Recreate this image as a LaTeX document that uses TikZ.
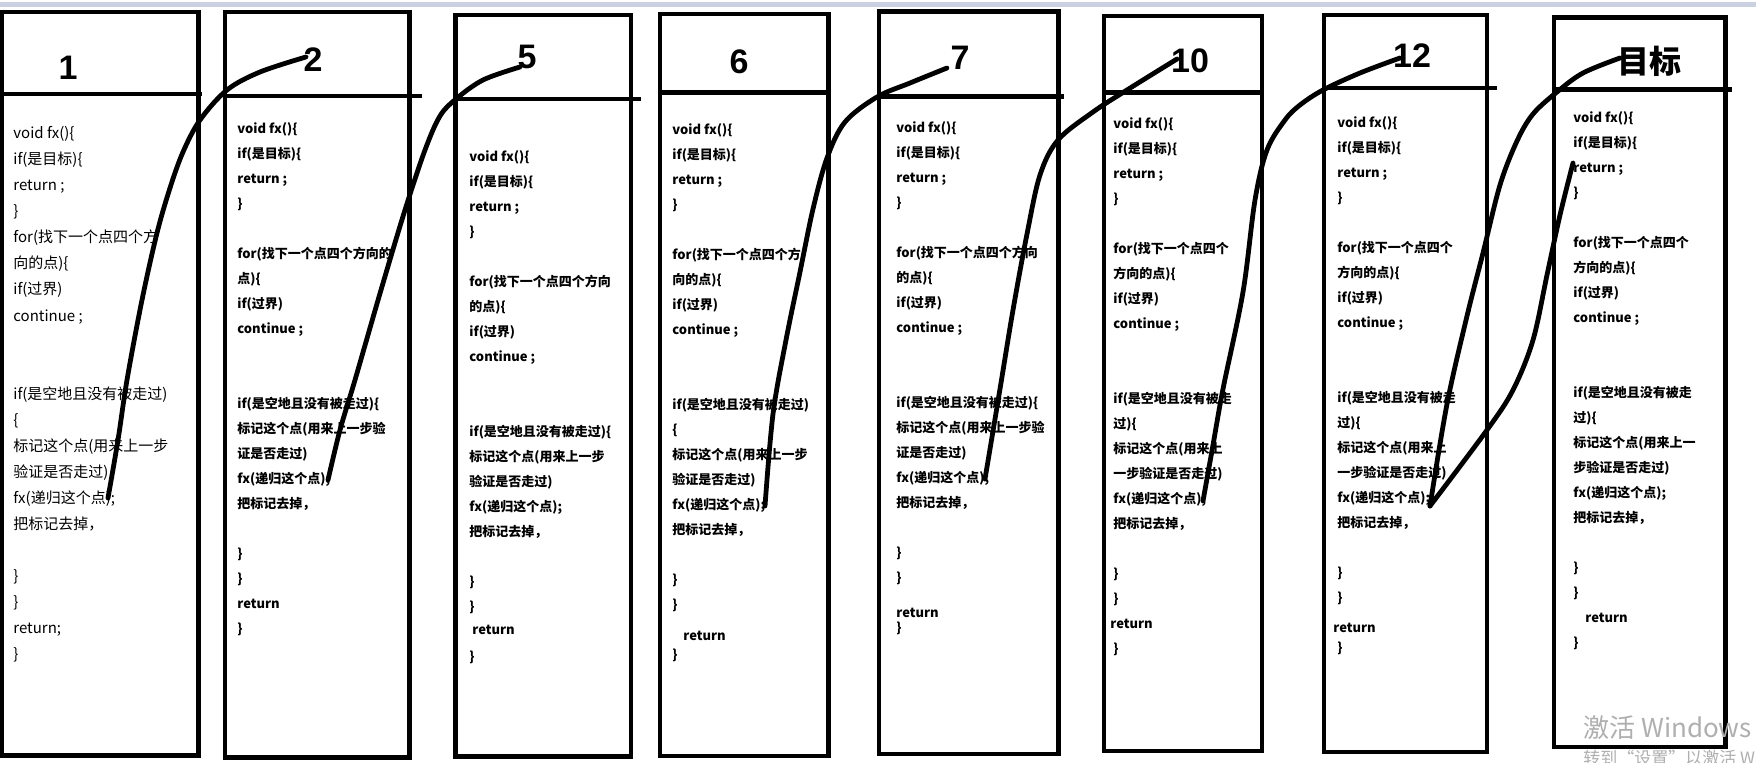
\documentclass[tikz,border=0pt]{standalone}
\usepackage{fontspec}
\setmainfont{Liberation Sans}
\newfontfamily\cjk{Noto Sans CJK SC}
\newfontfamily\titlefont{Liberation Sans}
\newcounter{lnum}
\definecolor{topband}{RGB}{203,209,224}
\definecolor{wmgrey}{RGB}{175,175,175}
\tikzset{
  x=0.5pt, y=-0.5pt,
  boxline/.style={line width=2.25pt, line cap=rect, line join=miter},
  curve/.style={line width=2.4pt, line cap=round, line join=round},
  title/.style={font=\titlefont\bfseries\fontsize{17pt}{17pt}\selectfont, inner sep=0pt},
  titlecjk/.style={font=\cjk\bfseries\fontsize{16pt}{16pt}\selectfont, inner sep=0pt},
  codeA/.style={font=\cjk\fontsize{7.5pt}{8pt}\selectfont, anchor=base west, inner sep=0pt},
  codeB/.style={font=\cjk\bfseries\fontsize{6.5pt}{7pt}\selectfont, anchor=base west, inner sep=0pt},
  cstyle/.style={codeB},
  wm/.style={font=\cjk\fontsize{13pt}{13pt}\selectfont, text=wmgrey, inner sep=0pt, anchor=base west},
  wmsmall/.style={font=\cjk\fontsize{8.5pt}{9pt}\selectfont, text=wmgrey, inner sep=0pt, anchor=base west},
}
\newcommand\codeln[3][0]{\stepcounter{lnum}\node[cstyle] (L\arabic{lnum}) at (#1,{#2*\pitch}) {#3};}
\begin{document}
\begin{tikzpicture}
\useasboundingbox (0,0) rectangle (1756,763);
\fill[white] (0,0) rectangle (1756,763);
\fill[topband] (0,2) rectangle (1756,7);

% ---------- boxes ----------
\draw[boxline] (2,12) rectangle (198.5,755.5);
\draw[boxline] (2,94) -- (200,94);
\draw[boxline] (225,12) rectangle (409.5,757.5);
\draw[boxline] (225,96) -- (420,96);
\draw[boxline] (455.5,15) rectangle (631,756.5);
\draw[boxline] (455.5,99) -- (639,99);
\draw[boxline] (660,14) rectangle (828.5,756);
\draw[boxline] (660,92.5) -- (828.5,92.5);
\draw[boxline] (879,11.7) rectangle (1058.5,754);
\draw[boxline] (879,96.5) -- (1062,96.5);
\draw[boxline] (1104,16) rectangle (1262,751);
\draw[boxline] (1104,92.5) -- (1262,92.5);
\draw[boxline] (1324,15) rectangle (1487,752);
\draw[boxline] (1324,88) -- (1495,88);
\draw[boxline] (1554,17.5) rectangle (1725.5,747);
\draw[boxline] (1554,89.5) -- (1730,89.5);

% ---------- titles ----------
\node[title] (t1) at (68,68) {1};
\node[title] (t2) at (313,60) {2};
\node[title] (t5) at (527,57) {5};
\node[title] (t6) at (739,62) {6};
\node[title] (t7) at (960,58) {7};
\node[title] (t10) at (1190,61) {10};
\node[title] (t12) at (1412,56) {12};
\node[titlecjk] (t13) at (1649,61) {目标};

% ---------- box 1 ----------
\begin{scope}[shift={(13,138.7)}, cstyle/.style={codeA}]
\def\pitch{26.05}
\codeln{0}{void fx()\{}
\codeln{1}{if(是目标)\{}
\codeln{2}{return ;}
\codeln{3}{\}}
\codeln{4}{for(找下一个点四个方}
\codeln{5}{向的点)\{}
\codeln{6}{if(过界)}
\codeln{7}{continue ;}
\codeln{10}{if(是空地且没有被走过)}
\codeln{11}{\{}
\codeln{12}{标记这个点(用来上一步}
\codeln{13}{验证是否走过)}
\codeln{14}{fx(递归这个点);}
\codeln{15}{把标记去掉，}
\codeln{17}{\}}
\codeln{18}{\}}
\codeln{19}{return;}
\codeln{20}{\}}
\end{scope}

% ---------- box 2 ----------
\begin{scope}[shift={(237,134)}]
\def\pitch{25}
\codeln{0}{void fx()\{}
\codeln{1}{if(是目标)\{}
\codeln{2}{return ;}
\codeln{3}{\}}
\codeln{5}{for(找下一个点四个方向的}
\codeln{6}{点)\{}
\codeln{7}{if(过界)}
\codeln{8}{continue ;}
\codeln{11}{if(是空地且没有被走过)\{}
\codeln{12}{标记这个点(用来上一步验}
\codeln{13}{证是否走过)}
\codeln{14}{fx(递归这个点);}
\codeln{15}{把标记去掉，}
\codeln{17}{\}}
\codeln{18}{\}}
\codeln{19}{return}
\codeln{20}{\}}
\end{scope}

% ---------- box 5 ----------
\begin{scope}[shift={(469,162)}]
\def\pitch{25}
\codeln{0}{void fx()\{}
\codeln{1}{if(是目标)\{}
\codeln{2}{return ;}
\codeln{3}{\}}
\codeln{5}{for(找下一个点四个方向}
\codeln{6}{的点)\{}
\codeln{7}{if(过界)}
\codeln{8}{continue ;}
\codeln{11}{if(是空地且没有被走过)\{}
\codeln{12}{标记这个点(用来上一步}
\codeln{13}{验证是否走过)}
\codeln{14}{fx(递归这个点);}
\codeln{15}{把标记去掉，}
\codeln{17}{\}}
\codeln{18}{\}}
\codeln[3]{18.9}{return}
\codeln{20}{\}}
\end{scope}

% ---------- box 6 ----------
\begin{scope}[shift={(672,135)}]
\def\pitch{25}
\codeln{0}{void fx()\{}
\codeln{1}{if(是目标)\{}
\codeln{2}{return ;}
\codeln{3}{\}}
\codeln{5}{for(找下一个点四个方}
\codeln{6}{向的点)\{}
\codeln{7}{if(过界)}
\codeln{8}{continue ;}
\codeln{11}{if(是空地且没有被走过)}
\codeln{12}{\{}
\codeln{13}{标记这个点(用来上一步}
\codeln{14}{验证是否走过)}
\codeln{15}{fx(递归这个点);}
\codeln{16}{把标记去掉，}
\codeln{18}{\}}
\codeln{19}{\}}
\codeln[11]{20.24}{return}
\codeln{21}{\}}
\end{scope}

% ---------- box 7 ----------
\begin{scope}[shift={(896,133)}]
\def\pitch{25}
\codeln{0}{void fx()\{}
\codeln{1}{if(是目标)\{}
\codeln{2}{return ;}
\codeln{3}{\}}
\codeln{5}{for(找下一个点四个方向}
\codeln{6}{的点)\{}
\codeln{7}{if(过界)}
\codeln{8}{continue ;}
\codeln{11}{if(是空地且没有被走过)\{}
\codeln{12}{标记这个点(用来上一步验}
\codeln{13}{证是否走过)}
\codeln{14}{fx(递归这个点);}
\codeln{15}{把标记去掉，}
\codeln{17}{\}}
\codeln{18}{\}}
\codeln{19.4}{return}
\codeln{20}{\}}
\end{scope}

% ---------- box 10 ----------
\begin{scope}[shift={(1113,129)}]
\def\pitch{25}
\codeln{0}{void fx()\{}
\codeln{1}{if(是目标)\{}
\codeln{2}{return ;}
\codeln{3}{\}}
\codeln{5}{for(找下一个点四个}
\codeln{6}{方向的点)\{}
\codeln{7}{if(过界)}
\codeln{8}{continue ;}
\codeln{11}{if(是空地且没有被走}
\codeln{12}{过)\{}
\codeln{13}{标记这个点(用来上}
\codeln{14}{一步验证是否走过)}
\codeln{15}{fx(递归这个点);}
\codeln{16}{把标记去掉，}
\codeln{18}{\}}
\codeln{19}{\}}
\codeln[-3]{20}{return}
\codeln{21}{\}}
\end{scope}

% ---------- box 12 ----------
\begin{scope}[shift={(1337,127.6)}]
\def\pitch{25}
\codeln{0}{void fx()\{}
\codeln{1}{if(是目标)\{}
\codeln{2}{return ;}
\codeln{3}{\}}
\codeln{5}{for(找下一个点四个}
\codeln{6}{方向的点)\{}
\codeln{7}{if(过界)}
\codeln{8}{continue ;}
\codeln{11}{if(是空地且没有被走}
\codeln{12}{过)\{}
\codeln{13}{标记这个点(用来上}
\codeln{14}{一步验证是否走过)}
\codeln{15}{fx(递归这个点);}
\codeln{16}{把标记去掉，}
\codeln{18}{\}}
\codeln{19}{\}}
\codeln[-4]{20.2}{return}
\codeln{21}{\}}
\end{scope}

% ---------- box target ----------
\begin{scope}[shift={(1573,123)}]
\def\pitch{25}
\codeln{0}{void fx()\{}
\codeln{1}{if(是目标)\{}
\codeln{2}{return ;}
\codeln{3}{\}}
\codeln{5}{for(找下一个点四个}
\codeln{6}{方向的点)\{}
\codeln{7}{if(过界)}
\codeln{8}{continue ;}
\codeln{11}{if(是空地且没有被走}
\codeln{12}{过)\{}
\codeln{13}{标记这个点(用来上一}
\codeln{14}{步验证是否走过)}
\codeln{15}{fx(递归这个点);}
\codeln{16}{把标记去掉，}
\codeln{18}{\}}
\codeln{19}{\}}
\codeln[12]{20}{return}
\codeln{21}{\}}
\end{scope}

% ---------- curve end points ----------
\coordinate (s1) at (108,498);
\coordinate (e1) at (306,57);
\coordinate (s2) at (328,480);
\coordinate (e2) at (520,67);
\coordinate (s3) at (765,506);
\coordinate (e3) at (947,68);
\coordinate (s4) at (985,479);
\coordinate (e4) at (1177,59);
\coordinate (s5) at (1203,501);
\coordinate (e5) at (1400,58);
\coordinate (s6) at (1430,506);
\coordinate (e6) at (1620,58);
\coordinate (e7) at (1573,163);

\draw[curve] plot[smooth, tension=0.55] coordinates {(s1) (118,440) (127,380) (142,300) (157,233) (170,188) (183,152) (200,120) (227,90) (260,72) (e1)};
\draw[curve] plot[smooth, tension=0.55] coordinates {(s2) (340,430) (355,380) (381,290) (405,210) (425,150) (440,116) (456,99) (483,80) (e2)};
\draw[curve] plot[smooth, tension=0.55] coordinates {(s3) (773,414) (786,340) (800,272) (813,209) (827,158) (845,122) (877,97) (910,83) (e3)};
\draw[curve] plot[smooth, tension=0.55] coordinates {(s4) (1000,389) (1013,310) (1027,234) (1040,175) (1058,140) (1093,112) (1127,90) (e4)};
\draw[curve] plot[smooth, tension=0.55] coordinates {(s5) (1213,445) (1223,389) (1243,292) (1255,200) (1267,150) (1285,120) (1300,105) (1323,90) (1360,73) (e5)};
\draw[curve] plot[smooth, tension=0.55] coordinates {(s6) (1447,404) (1467,316) (1483,253) (1500,185) (1517,141) (1533,114) (1557,92) (1583,73) (e6)};
\draw[curve] plot[smooth, tension=0.55] coordinates {(s6) (1487,430) (1513,390) (1533,340) (1547,275) (1560,215) (e7)};

% ---------- watermark ----------
\node[wm] (wm1) at (1583,738) {激活 Windows};
\node[wmsmall] (wm2) at (1583,765) {转到“设置”以激活 Windows。};
\end{tikzpicture}
\end{document}
